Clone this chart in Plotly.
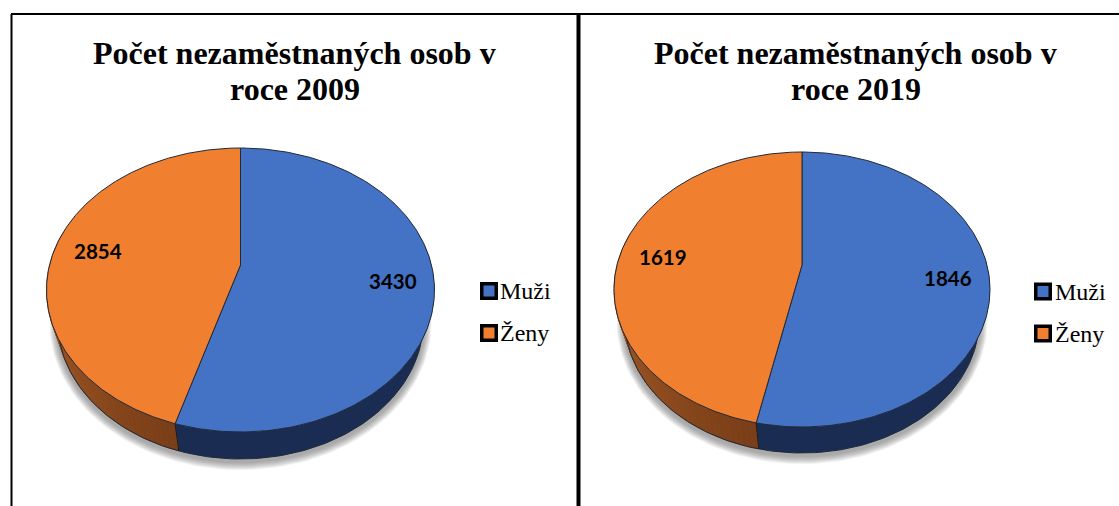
import numpy as np
import plotly.graph_objects as go

categories = ["Muži", "Ženy"]
values_2009 = [3430, 2854]
values_2019 = [1846, 1619]
title_lines_2009 = ["Počet nezaměstnaných osob v", "roce 2009"]
title_lines_2019 = ["Počet nezaměstnaných osob v", "roce 2019"]

TOP = ["#4472C4", "#F07F30"]
EDGE = "#1f2a3a"
W, H = 1119, 506
fig = go.Figure()


def warp(theta):
    """Clockwise angle from 12 o'clock -> point on the unit circle, with the perspective shift."""
    z = np.exp(1j * (np.pi / 2 - theta))
    a = 0.09j
    w = (z + a) / (1 + np.conj(a) * z)
    return w.real, w.imag


def poly(x, y, fill, line=None, width=1):
    fig.add_trace(go.Scatter(
        x=list(x), y=list(y), mode="lines", fill="toself", fillcolor=fill,
        line=dict(color=line if line else "rgba(0,0,0,0)", width=width if line else 0),
        hoverinfo="skip", showlegend=False))


def lerp(c1, c2, t):
    return "rgb(%d,%d,%d)" % tuple(c1[i] + (c2[i] - c1[i]) * t for i in range(3))


def pie3d(values, cx, cy, rx, ry, apex_y, depth):
    total = sum(values)
    split = 2 * np.pi * values[0] / total
    brx, bry = rx * 0.943, ry * 0.972
    bcy = cy + ry + depth - bry

    # soft shadow below the disc
    tt = np.linspace(0, 2 * np.pi, 181)
    for i in range(8):
        e = 9 - i
        poly(cx + (brx + e * 0.9) * np.cos(tt), bcy + 2 + (bry + e) * np.sin(tt), "rgba(90,90,90,0.085)")

    def bottom(th):
        u, v = warp(th)
        return cx + brx * u, bcy - bry * v

    def top(th):
        u, v = warp(th)
        return cx + rx * u, cy - ry * v

    start, end = np.pi * 0.42, np.pi * 1.58

    # side wall of the first slice: one flat dark colour
    ts = np.linspace(start, split, 160)
    xt, yt = top(ts)
    xb, yb = bottom(ts[::-1])
    poly(np.r_[xt, xb, xt[0]], np.r_[yt, yb, yt[0]], "rgb(26,44,82)")

    # side wall of the second slice: shaded in narrow strips
    edges = np.linspace(split, end, 61)
    for j, (a, b) in enumerate(zip(edges[:-1], edges[1:])):
        c = lerp((122, 62, 24), (178, 98, 40), j / 59)
        ts = np.array([a, b])
        xt, yt = top(ts)
        xb, yb = bottom(ts[::-1])
        poly(np.r_[xt, xb, xt[0]], np.r_[yt, yb, yt[0]], c, c, 0.7)

    # outlines of the wall
    ths = np.linspace(start, end, 200)
    bx, by = bottom(ths)
    fig.add_trace(go.Scatter(x=bx, y=by, mode="lines", line=dict(color=EDGE, width=1),
                             hoverinfo="skip", showlegend=False))
    sx, sy = top(np.array([split]))
    ex, ey = bottom(np.array([split]))
    fig.add_trace(go.Scatter(x=[sx[0], ex[0]], y=[sy[0], ey[0]], mode="lines",
                             line=dict(color="#15181f", width=1), hoverinfo="skip", showlegend=False))

    # top faces
    for k, (a, b) in enumerate([(0, split), (split, 2 * np.pi)]):
        ts = np.linspace(a, b, 240)
        x, y = top(ts)
        poly(np.r_[cx, x, cx], np.r_[apex_y, y, apex_y], TOP[k], EDGE, 1)


pie3d(values_2009, 240.5, 290, 194, 142, 265, 27)
pie3d(values_2019, 802, 289.5, 188, 137.5, 265, 26)

# legend swatches
for x0, rows in [(489, (291, 333)), (1043, (291.5, 333.5))]:
    for k, yy in enumerate(rows):
        fig.add_trace(go.Scatter(x=[x0], y=[yy], mode="markers",
                                 marker=dict(symbol="square", size=14.5, color=TOP[k],
                                             line=dict(color="#000", width=3.5)),
                                 hoverinfo="skip", showlegend=False))

serif = "Liberation Serif"
notes = []
for x, lines in [(294.5, title_lines_2009), (855.5, title_lines_2019)]:
    for yy, line in zip((53, 89), lines):
        notes.append(dict(x=x, y=yy, text="<b>%s</b>" % line, showarrow=False, xanchor="center", yanchor="middle",
                          font=dict(family=serif, size=32, color="#000")))
for x, yy, v in [(393, 281, values_2009[0]), (98, 251, values_2009[1]),
                 (948, 278, values_2019[0]), (663, 257, values_2019[1])]:
    notes.append(dict(x=x, y=yy, text="<b>%d</b>" % v, showarrow=False, xanchor="center", yanchor="middle",
                      font=dict(family="Lato", size=20.5, color="#000")))
for x0, rows in [(497.5, (291, 333)), (1053, (291.5, 333.5))]:
    for k, yy in enumerate(rows):
        notes.append(dict(x=x0, y=yy, text=categories[k], showarrow=False, xanchor="left", yanchor="middle",
                          font=dict(family=serif, size=24, color="#000")))

shapes = [
    dict(type="line", x0=11.5, x1=11.5, y0=14, y1=H, line=dict(color="#000", width=2)),
    dict(type="line", x0=11, x1=W, y0=14, y1=14, line=dict(color="#000", width=2)),
    dict(type="line", x0=578.5, x1=578.5, y0=14, y1=H, line=dict(color="#000", width=4)),
]

fig.update_layout(
    width=W, height=H, autosize=False, margin=dict(l=0, r=0, t=0, b=0),
    paper_bgcolor="#fff", plot_bgcolor="#fff", showlegend=False,
    xaxis=dict(range=[0, W], visible=False, fixedrange=True),
    yaxis=dict(range=[H, 0], visible=False, fixedrange=True),
    annotations=notes, shapes=shapes,
)
fig.write_html("out.html", config=dict(displayModeBar=False),
               post_script="document.body.style.margin='0';")
